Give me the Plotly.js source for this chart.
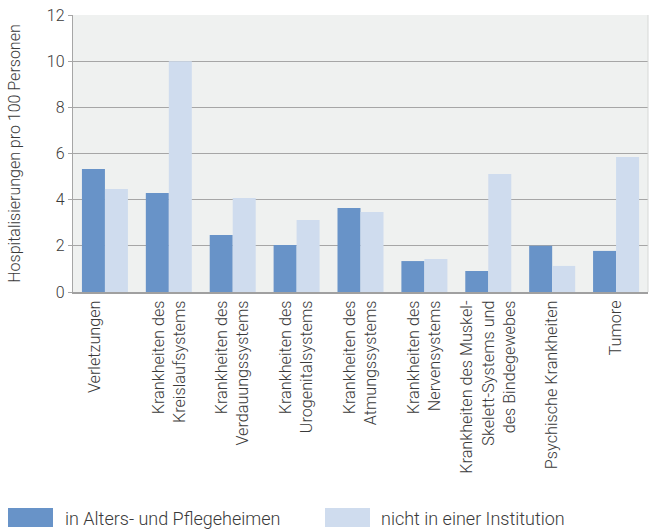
<!DOCTYPE html>
<html><head><meta charset="utf-8">
<script src="https://cdn.plot.ly/plotly-3.0.1.min.js"></script>
<style>html,body{margin:0;padding:0;background:#fff}#chart{width:649px;height:530px}</style>
</head><body><div id="chart"></div>
<script>
const categories = [
  "Verletzungen<br> ",
  "Krankheiten des<br>Kreislaufsystems",
  "Krankheiten des<br>Verdauungssystems",
  "Krankheiten des<br>Urogenitalsystems",
  "Krankheiten des<br>Atmungssystems",
  "Krankheiten des<br>Nervensystems",
  "Krankheiten des Muskel-<br>Skelett-Systems und<br>des Bindegewebes",
  "Psychische Krankheiten",
  "Tumore"
];
const seriesNames = ["in Alters- und Pflegeheimen", "nicht in einer Institution"];
const heime = [5.33, 4.29, 2.47, 2.04, 3.64, 1.34, 0.91, 2.0, 1.78];
const nichtInstitution = [4.46, 10.0, 4.07, 3.12, 3.47, 1.43, 5.11, 1.13, 5.85];
const yTicks = [0, 2, 4, 6, 8, 10, 12];

const colors = ["#6893c8", "#cfdcee"];
const font = {family: "Roboto, 'Open Sans', sans-serif", color: "#3a3a3a", weight: 300};

const traces = [heime, nichtInstitution].map((vals, i) => ({
  type: "bar", x: categories, y: vals, name: seriesNames[i],
  marker: {color: colors[i]}, hoverinfo: "skip", showlegend: false
}));

const L = 73, R = 648, T = 15, B = 292;
const pw = R - L, ph = B - T;
const px = v => (v - L) / pw;
const py = v => (B - v) / ph;

const shapes = [
  {type: "rect", xref: "paper", yref: "paper", x0: px(8), x1: px(53), y0: py(527), y1: py(508), fillcolor: colors[0], line: {width: 0}},
  {type: "rect", xref: "paper", yref: "paper", x0: px(325), x1: px(370), y0: py(527), y1: py(508), fillcolor: colors[1], line: {width: 0}},
  {type: "line", xref: "paper", yref: "paper", x0: 1, x1: 1, y0: 0, y1: 1, line: {color: "#d6d8d7", width: 1}}
];
const annotations = [
  {xref: "paper", yref: "paper", x: px(63), y: py(518), xanchor: "left", yanchor: "middle", showarrow: false, text: seriesNames[0], font: Object.assign({}, font, {size: 18})},
  {xref: "paper", yref: "paper", x: px(379), y: py(518), xanchor: "left", yanchor: "middle", showarrow: false, text: seriesNames[1], font: Object.assign({}, font, {size: 18})}
];

const layout = {
  width: 649, height: 530,
  margin: {l: L, r: 649 - R, t: T, b: 530 - B},
  paper_bgcolor: "#ffffff", plot_bgcolor: "#eff1f0",
  barmode: "group", bargap: 0.28, bargroupgap: 0,
  font: Object.assign({}, font, {size: 15}),
  showlegend: false,
  xaxis: {
    tickangle: -90, tickfont: Object.assign({}, font, {size: 16.2}),
    showline: true, linecolor: "#a0a0a0", linewidth: 2,
    ticks: "", showgrid: false, automargin: false
  },
  yaxis: {
    range: [0, 12], tickvals: yTicks, ticktext: yTicks.map(String),
    tickfont: Object.assign({}, font, {size: 16}),
    showgrid: true, gridcolor: "#a6a6a6", gridwidth: 1.2,
    showline: true, linecolor: "#a6a6a6", linewidth: 1.2,
    ticks: "outside", ticklen: 4, tickcolor: "#a6a6a6",
    zeroline: false, automargin: false,
    title: {text: "Hospitalisierungen pro 100 Personen", font: Object.assign({}, font, {size: 16}), standoff: 22}
  },
  shapes: shapes, annotations: annotations
};

Plotly.newPlot("chart", traces, layout, {displayModeBar: false, staticPlot: true});
</script></body></html>
